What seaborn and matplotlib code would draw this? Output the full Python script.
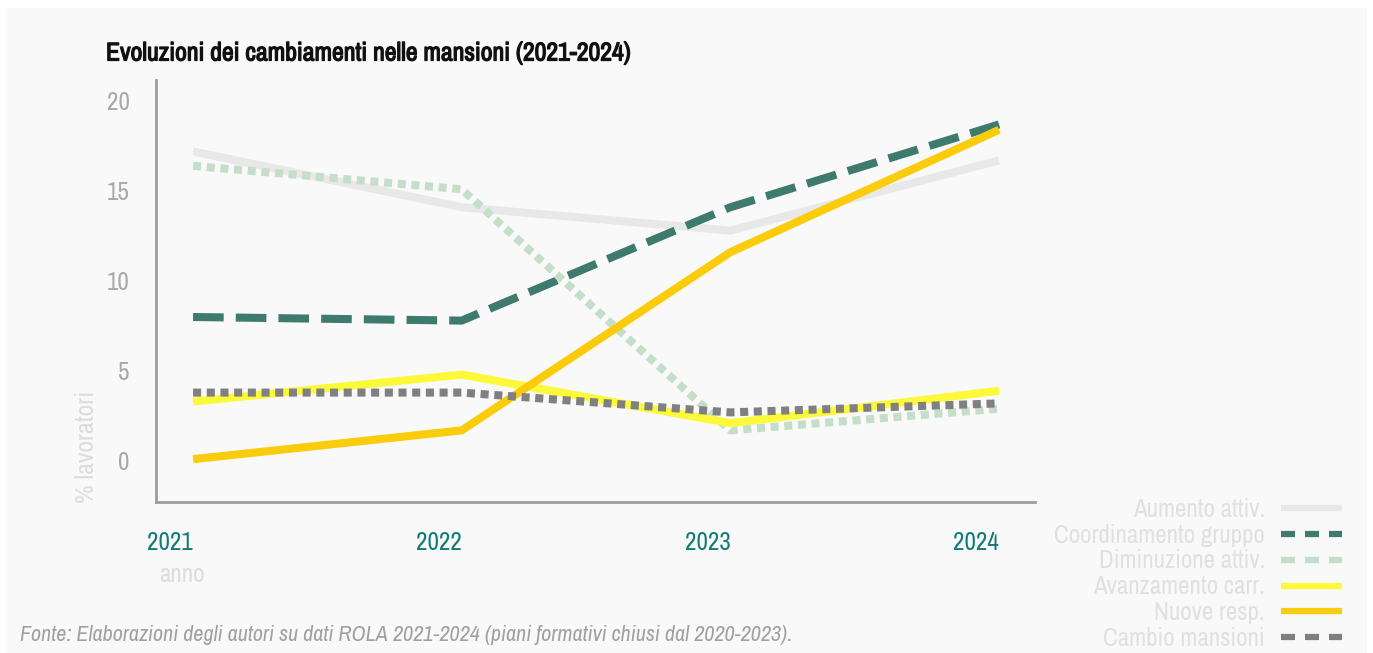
import matplotlib
matplotlib.use("Agg")
import matplotlib.pyplot as plt
from matplotlib import font_manager
from matplotlib.patches import Rectangle
from matplotlib.lines import Line2D
import matplotlib.patheffects as pe
import seaborn as sns
import pandas as pd

years = [2021, 2022, 2023, 2024]
series_names = ["Aumento attiv.", "Coordinamento gruppo", "Diminuzione attiv.",
                "Avanzamento carr.", "Nuove resp.", "Cambio mansioni"]
aumento_attiv = [17.7, 14.6, 13.3, 17.2]
coordinamento_gruppo = [8.5, 8.3, 14.6, 19.2]
diminuzione_attiv = [16.9, 15.6, 2.2, 3.4]
avanzamento_carr = [3.8, 5.3, 2.6, 4.4]
nuove_resp = [0.6, 2.2, 12.1, 18.9]
cambio_mansioni = [4.3, 4.3, 3.2, 3.7]
y_ticks = [0, 5, 10, 15, 20]

colors = ["#e8e8e8", "#3e7a6e", "#c5dec9", "#fcf93a", "#fbcc0c", "#808080"]
# dash patterns in units of line width
dashes = [None, (3.8, 1.5), (1.0, 0.7), None, None, (1.0, 0.7)]

df = pd.DataFrame({
    "anno": years * 6,
    "valore": (aumento_attiv + coordinamento_gruppo + diminuzione_attiv
               + avanzamento_carr + nuove_resp + cambio_mansioni),
    "serie": [n for n in series_names for _ in years],
})

sns.set_style("white")
fonts = font_manager.fontManager.ttflist
narrow = sorted({f.name for f in fonts if "Condensed" in f.name or "Narrow" in f.name})
base = narrow[0] if narrow else "Roboto"
has_bold = any(f.name == base and f.weight in (600, 700, 800, 900, "bold")
               for f in fonts)
plt.rcParams["font.family"] = [base, "DejaVu Sans"]

fig = plt.figure(figsize=(13.73, 6.53), dpi=100)
fig.patch.set_facecolor("white")
fig.patches.append(Rectangle((6 / 1373, 0), 1 - 12 / 1373, 1 - 8 / 653,
                             transform=fig.transFigure, facecolor="#f9f9f9",
                             edgecolor="none", zorder=-10))

ax = fig.add_axes([156 / 1373, 1 - 502 / 653, (1035 - 156) / 1373, (502 - 80) / 653])
ax.set_facecolor("none")

palette = dict(zip(series_names, colors))
sns.lineplot(data=df, x="anno", y="valore", hue="serie", palette=palette,
             linewidth=5.8, legend=False, ax=ax)
for line, d in zip(ax.get_lines(), dashes):
    line.set_solid_capstyle("butt")
    line.set_solid_joinstyle("miter")
    if d is not None:
        line.set_dashes(d)
        line.set_dash_capstyle("butt")

ax.set_xlim(2020.862, 2024.134)
ax.set_ylim(-1.78, 21.67)
ax.set_xticks(years)
ax.set_xticklabels([str(y) for y in years], ha="right")
ax.set_yticks(y_ticks)
ax.tick_params(axis="x", length=16, width=2, color="#9e9e9e", labelcolor="#127b78",
               labelsize=18, pad=5, direction="out")
ax.tick_params(axis="y", length=16, width=2, color="#9e9e9e", labelcolor="#a8a8a8",
               labelsize=18, pad=3, direction="out")
for lab in ax.get_yticklabels():
    lab.set_verticalalignment("baseline")

for s in ["top", "right"]:
    ax.spines[s].set_visible(False)
for s in ["left", "bottom"]:
    ax.spines[s].set_color("#9e9e9e")
    ax.spines[s].set_linewidth(2)

ax.set_xlabel("")
ax.set_ylabel("")
fig.text(87 / 1373, 1 - 447 / 653, "% lavoratori", rotation=90, ha="center", va="center",
         fontsize=18.5, color="#dcdcdc")
fig.text(182 / 1373, 1 - 574 / 653, "anno", ha="center", va="center",
         fontsize=18, color="#dcdcdc")

title = fig.text(106 / 1373, 1 - 53 / 653,
                 "Evoluzioni dei cambiamenti nelle mansioni (2021-2024)",
                 ha="left", va="center", fontsize=18.5,
                 fontweight="bold" if has_bold else "normal", color="#111111")
if not has_bold:
    title.set_path_effects([pe.withStroke(linewidth=0.9, foreground="#111111")])
fig.text(20 / 1373, 1 - 635 / 653,
         "Fonte: Elaborazioni degli autori su dati ROLA 2021-2024 (piani formativi chiusi dal 2020-2023).",
         ha="left", va="center", fontsize=15.9, fontstyle="italic", color="#a0a0a0")

handles = []
for c, d in zip(colors, dashes):
    h = Line2D([0], [0], color=c, linewidth=4.5, solid_capstyle="butt")
    if d is not None:
        h.set_dashes([2.24, 1.6])
        h.set_dash_capstyle("butt")
    handles.append(h)
leg = fig.legend(handles, series_names, loc="upper right",
                 bbox_to_anchor=(1342 / 1373, 1 - 498 / 653), frameon=False,
                 markerfirst=False, fontsize=18, handlelength=2.44,
                 handletextpad=0.64, labelspacing=0.11, borderaxespad=0,
                 borderpad=0)
for t in leg.get_texts():
    t.set_color("#e0e0e0")
    t.set_ha("right")
leg._legend_box.align = "right"

fig.savefig("out.png", dpi=100, facecolor="white")
